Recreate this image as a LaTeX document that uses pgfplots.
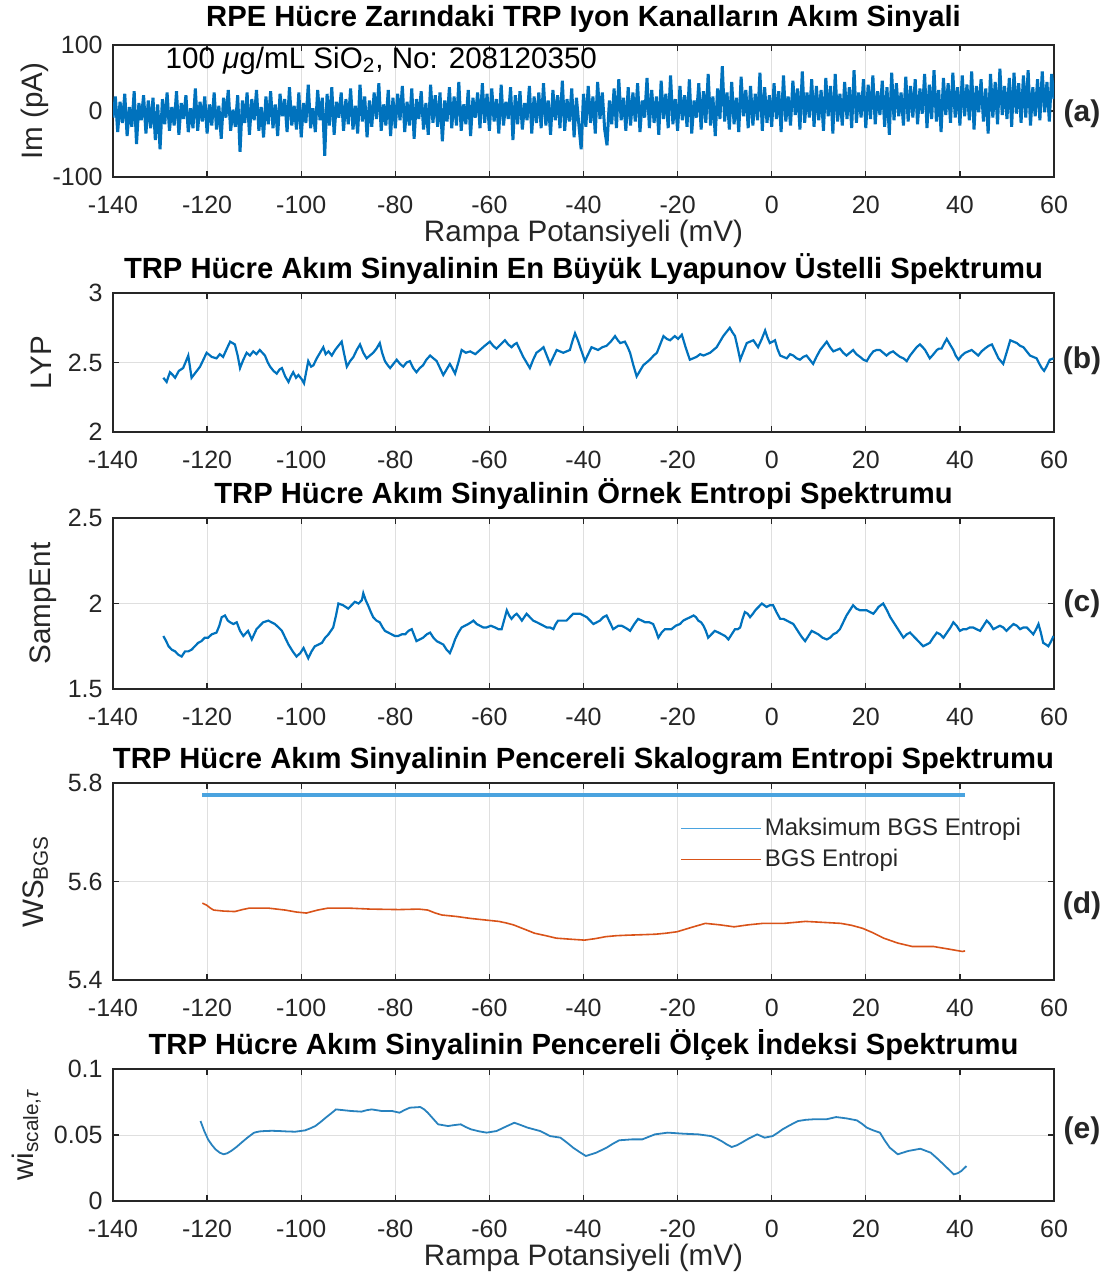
\documentclass[border=0pt]{standalone}
\usepackage{fontspec}
\setmainfont{Liberation Sans}
\usepackage{pgfplots}
\pgfplotsset{compat=1.18}

\definecolor{mblue}{RGB}{0,114,189}
\definecolor{mlight}{RGB}{74,163,223}
\definecolor{morange}{RGB}{217,83,25}
\definecolor{eblue}{RGB}{40,130,190}
\definecolor{axgray}{RGB}{38,38,38}
\definecolor{gridgray}{RGB}{223,223,223}

\pgfplotsset{
  panel/.style={
    scale only axis, width=470.5pt,
    xmin=-140, xmax=60,
    xtick={-140,-120,-100,-80,-60,-40,-20,0,20,40,60},
    xticklabels={-140,-120,-100,-80,-60,-40,-20,0,20,40,60},
    grid=major,
    major grid style={line width=0.5pt, draw=gridgray},
    axis line style={line width=0.65pt, draw=axgray},
    every tick/.style={line width=0.65pt, draw=axgray},
    major tick length=3pt, tick align=inside,
    tick label style={font=\fontsize{12.5}{14}\selectfont, text=axgray},
    xticklabel style={anchor=base, inner sep=0pt, yshift=-18pt},
    yticklabel style={anchor=east, inner sep=0pt, xshift=-5pt},
    title style={font=\bfseries\fontsize{14.6}{17}\selectfont, anchor=base,
      at={(axis description cs:0.5,1)}, yshift=1.5pt, inner sep=0pt},
    xlabel style={font=\fontsize{14.8}{17}\selectfont, text=axgray, anchor=base,
      at={(axis description cs:0.5,0)}, yshift=-32pt, inner sep=0pt},
    ylabel style={font=\fontsize{14.8}{17}\selectfont, text=axgray, anchor=base, inner sep=0pt},
    clip mode=individual,
  },
}

\begin{document}
\begin{tikzpicture}
\useasboundingbox (0,0) rectangle (557.5pt,-637pt);

% (a) current signal
\begin{axis}[panel, at={(56.5pt,-88.5pt)}, anchor=south west, height=66pt,
  ymin=-100, ymax=100, ytick={-100,0,100}, yticklabels={-100,0,100},
  title={RPE Hücre Zarındaki TRP Iyon Kanalların Akım Sinyali}, title style={yshift=2pt},
  xlabel={Rampa Potansiyeli (mV)}, ylabel={Im (pA)},
  ylabel style={at={(axis description cs:-0.075,0.5)}}]
\addplot[mblue, line width=1.5pt, line join=bevel] coordinates {
(-140,-10)(-139.5,22)(-139,-32)(-138.5,14)(-138,-18)(-137.5,26)(-137,-38)(-136.5,6)(-136,-24)(-135.5,30)(-135,-50)(-134.5,12)(-134,-14)(-133.5,24)(-133,-34)(-132.5,16)(-132,-26)(-131.5,20)(-131,-44)(-130.5,10)
(-130,-58)(-129.5,18)(-129,-20)(-128.5,28)(-128,-30)(-127.5,6)(-127,-22)(-126.5,30)(-126,-36)(-125.5,12)(-125,-12)(-124.5,24)(-124,-32)(-123.5,4)(-123,-26)(-122.5,34)(-122,-30)(-121.5,14)(-121,-16)(-120.5,22)
(-120,-34)(-119.5,10)(-119,-22)(-118.5,28)(-118,-28)(-117.5,8)(-117,-42)(-116.5,20)(-116,-10)(-115.5,32)(-115,-30)(-114.5,2)(-114,-24)(-113.5,24)(-113,-62)(-112.5,16)(-112,-18)(-111.5,28)(-111,-36)(-110.5,18)
(-110,-14)(-109.5,32)(-109,-30)(-108.5,6)(-108,-40)(-107.5,22)(-107,-20)(-106.5,30)(-106,-26)(-105.5,10)(-105,-38)(-104.5,26)(-104,-8)(-103.5,18)(-103,-32)(-102.5,36)(-102,-22)(-101.5,8)(-101,-28)(-100.5,28)
(-100,-40)(-99.5,12)(-99,-18)(-98.5,40)(-98,-26)(-97.5,4)(-97,-32)(-96.5,32)(-96,-14)(-95.5,20)(-95,-68)(-94.5,26)(-94,-22)(-93.5,36)(-93,-36)(-92.5,14)(-92,-10)(-91.5,28)(-91,-30)(-90.5,18)
(-90,-20)(-89.5,34)(-89,-28)(-88.5,8)(-88,-34)(-87.5,40)(-87,-16)(-86.5,22)(-86,-40)(-85.5,16)(-85,-24)(-84.5,28)(-84,-12)(-83.5,42)(-83,-30)(-82.5,10)(-82,-22)(-81.5,32)(-81,-38)(-80.5,20)
(-80,-26)(-79.5,26)(-79,-14)(-78.5,38)(-78,-32)(-77.5,14)(-77,-22)(-76.5,34)(-76,-42)(-75.5,18)(-75,-12)(-74.5,30)(-74,-28)(-73.5,12)(-73,-36)(-72.5,40)(-72,-18)(-71.5,24)(-71,-24)(-70.5,28)
(-70,-46)(-69.5,16)(-69,-16)(-68.5,36)(-68,-26)(-67.5,22)(-67,-22)(-66.5,44)(-66,-30)(-65.5,10)(-65,-20)(-64.5,32)(-64,-38)(-63.5,20)(-63,-10)(-62.5,28)(-62,-26)(-61.5,42)(-61,-18)(-60.5,26)
(-60,-30)(-59.5,34)(-59,-16)(-58.5,18)(-58,-34)(-57.5,40)(-57,-22)(-56.5,14)(-56,-12)(-55.5,36)(-55,-44)(-54.5,24)(-54,-20)(-53.5,30)(-53,-28)(-52.5,12)(-52,-14)(-51.5,38)(-51,-34)(-50.5,22)
(-50,-18)(-49.5,28)(-49,-26)(-48.5,42)(-48,-22)(-47.5,16)(-47,-36)(-46.5,32)(-46,-14)(-45.5,24)(-45,-26)(-44.5,46)(-44,-30)(-43.5,18)(-43,-16)(-42.5,34)(-42,-40)(-41.5,20)(-41,-20)(-40.5,-58)
(-40,26)(-39.5,-24)(-39,38)(-38.5,-18)(-38,22)(-37.5,-34)(-37,44)(-36.5,-12)(-36,28)(-35.5,-28)(-35,-52)(-34.5,16)(-34,-20)(-33.5,34)(-33,-26)(-32.5,48)(-32,-14)(-31.5,20)(-31,-30)(-30.5,36)
(-30,-22)(-29.5,28)(-29,-16)(-28.5,42)(-28,-32)(-27.5,16)(-27,-10)(-26.5,50)(-26,-26)(-25.5,32)(-25,-18)(-24.5,22)(-24,-36)(-23.5,46)(-23,-12)(-22.5,26)(-22,-26)(-21.5,54)(-21,-20)(-20.5,18)
(-20,-30)(-19.5,38)(-19,-14)(-18.5,24)(-18,-24)(-17.5,48)(-17,-34)(-16.5,16)(-16,-10)(-15.5,42)(-15,-28)(-14.5,30)(-14,-18)(-13.5,56)(-13,-22)(-12.5,22)(-12,-38)(-11.5,34)(-11,-12)(-10.5,68)
(-10,-16)(-9.5,28)(-9,-28)(-8.5,44)(-8,-20)(-7.5,20)(-7,-32)(-6.5,52)(-6,-8)(-5.5,32)(-5,-26)(-4.5,38)(-4,-22)(-3.5,26)(-3,-14)(-2.5,58)(-2,-30)(-1.5,36)(-1,-18)(-0.5,24)
(0,-24)(0.5,42)(1,-12)(1.5,30)(2,-32)(2.5,54)(3,-16)(3.5,22)(4,-22)(4.5,46)(5,-6)(5.5,34)(6,-28)(6.5,60)(7,-18)(7.5,28)(8,-10)(8.5,48)(9,-24)(9.5,38)
(10,-14)(10.5,32)(11,-30)(11.5,50)(12,-8)(12.5,38)(13,-34)(13.5,56)(14,-16)(14.5,26)(15,-22)(15.5,44)(16,-12)(16.5,36)(17,-26)(17.5,62)(18,-18)(18.5,28)(19,-10)(19.5,48)
(20,-26)(20.5,40)(21,-12)(21.5,54)(22,-20)(22.5,30)(23,-6)(23.5,46)(24,-24)(24.5,36)(25,-36)(25.5,58)(26,-14)(26.5,42)(27,-8)(27.5,28)(28,-22)(28.5,52)(29,-16)(29.5,38)
(30,-10)(30.5,48)(31,-20)(31.5,34)(32,-4)(32.5,56)(33,-26)(33.5,40)(34,-12)(34.5,62)(35,-16)(35.5,32)(36,-32)(36.5,50)(37,-6)(37.5,42)(38,-18)(38.5,58)(39,-10)(39.5,36)
(40,-22)(40.5,54)(41,-8)(41.5,40)(42,-14)(42.5,60)(43,-28)(43.5,38)(44,-2)(44.5,48)(45,-16)(45.5,34)(46,-34)(46.5,56)(47,-10)(47.5,44)(48,-20)(48.5,64)(49,-6)(49.5,38)
(50,-12)(50.5,50)(51,-24)(51.5,58)(52,-4)(52.5,42)(53,-18)(53.5,54)(54,-10)(54.5,62)(55,-22)(55.5,36)(56,-8)(56.5,48)(57,-14)(57.5,60)(58,-2)(58.5,44)(59,-16)(59.5,56)(60,18)
};
\node[anchor=base west, inner sep=0pt, font=\fontsize{14.8}{17}\selectfont]
  at (axis cs:-128.9,65) {100 {\itshape μ}g/mL SiO\textsubscript{2}, No: 208120350};
\end{axis}

% (b) largest Lyapunov exponent
\begin{axis}[panel, at={(56.5pt,-216pt)}, anchor=south west, height=69.5pt,
  ymin=2, ymax=3, ytick={2,2.5,3}, yticklabels={2,2.5,3},
  title={TRP Hücre Akım Sinyalinin En Büyük Lyapunov Üstelli Spektrumu},
  ylabel={LYP}, ylabel style={at={(axis description cs:-0.065,0.5)}}]
\addplot[mblue, line width=1.1pt] coordinates {
(-129.3,2.39)(-128.6,2.36)(-127.9,2.43)(-127.3,2.41)(-126.8,2.39)(-126,2.44)(-125.1,2.46)(-124.6,2.50)(-124,2.55)(-123.3,2.39)(-122.4,2.43)(-121.5,2.47)(-120.8,2.52)(-120.1,2.57)(-119,2.54)(-118,2.53)(-117.3,2.56)(-116.6,2.54)(-115.8,2.60)(-115.1,2.65)(-114.1,2.63)(-113.5,2.55)(-113,2.46)(-112.3,2.52)(-111.6,2.57)(-110.9,2.55)(-110.2,2.58)(-109.5,2.56)(-108.8,2.59)(-107.7,2.55)(-107.1,2.50)(-106.6,2.47)(-105.9,2.44)(-105.2,2.42)(-104.6,2.45)(-104.1,2.46)(-103.4,2.40)(-102.7,2.36)(-102.2,2.40)(-101.7,2.43)(-101.1,2.39)(-100.6,2.41)(-99.9,2.38)(-99.4,2.35)(-98.9,2.44)(-98.5,2.51)(-97.9,2.47)(-97.4,2.48)(-96.7,2.53)(-96,2.57)(-95.3,2.61)(-94.8,2.56)(-94.2,2.58)(-93.5,2.55)(-92.8,2.59)(-92.1,2.62)(-91.4,2.65)(-90.8,2.55)(-90.3,2.47)(-89.6,2.51)(-88.9,2.54)(-88.2,2.59)(-87.5,2.63)(-86.8,2.57)(-86.1,2.53)(-85.4,2.55)(-84.7,2.57)(-84,2.60)(-83.3,2.64)(-82.8,2.57)(-82.2,2.51)(-81.6,2.48)(-81.1,2.46)(-80.4,2.49)(-79.7,2.52)(-79,2.49)(-78.3,2.47)(-77.6,2.50)(-76.9,2.51)(-76.2,2.46)(-75.5,2.43)(-74.8,2.46)(-74.1,2.48)(-73.4,2.52)(-72.6,2.55)(-71.9,2.53)(-71.2,2.51)(-70.5,2.46)(-69.8,2.41)(-69.1,2.45)(-68.4,2.49)(-67.9,2.46)(-67.3,2.42)(-66.6,2.50)(-65.9,2.59)(-65,2.57)(-64.1,2.58)(-63,2.56)(-62,2.59)(-61,2.62)(-59.9,2.65)(-59.2,2.62)(-58.5,2.60)(-57.6,2.63)(-56.7,2.66)(-56,2.63)(-55.3,2.61)(-54.7,2.63)(-54.2,2.64)(-53.5,2.59)(-52.8,2.54)(-52.1,2.50)(-51.4,2.46)(-50.7,2.52)(-50,2.57)(-49.2,2.59)(-48.5,2.61)(-47.8,2.55)(-47.1,2.49)(-46.4,2.54)(-45.7,2.59)(-45,2.58)(-44.3,2.57)(-43.6,2.58)(-42.9,2.59)(-42.3,2.66)(-41.8,2.71)(-41.2,2.66)(-40.7,2.61)(-40.2,2.56)(-39.7,2.51)(-39,2.56)(-38.3,2.61)(-37.6,2.60)(-36.9,2.59)(-36,2.61)(-35.1,2.62)(-34.2,2.65)(-33.3,2.69)(-32.7,2.66)(-32.2,2.64)(-31.2,2.65)(-30.6,2.61)(-30.1,2.57)(-29.4,2.48)(-28.7,2.40)(-28,2.44)(-27.3,2.48)(-26.6,2.50)(-25.9,2.52)(-25.1,2.55)(-24.4,2.57)(-23.7,2.63)(-23,2.69)(-22.3,2.67)(-21.6,2.66)(-20.6,2.69)(-19.9,2.67)(-19.1,2.70)(-18.3,2.61)(-17.4,2.52)(-16.7,2.53)(-16,2.54)(-15.2,2.56)(-14.5,2.55)(-13.8,2.56)(-13.1,2.57)(-12.4,2.59)(-11.7,2.61)(-11,2.65)(-10.3,2.69)(-9.6,2.72)(-8.9,2.75)(-8.4,2.72)(-7.8,2.69)(-7.2,2.60)(-6.7,2.52)(-6,2.58)(-5.3,2.64)(-4.6,2.65)(-3.9,2.66)(-2.9,2.61)(-2.1,2.67)(-1.4,2.73)(-0.9,2.68)(-0.4,2.64)(0.2,2.65)(0.7,2.66)(1.2,2.60)(1.8,2.55)(2.5,2.54)(3.2,2.53)(3.9,2.56)(4.6,2.55)(5.3,2.53)(6,2.52)(6.7,2.54)(7.4,2.55)(8.1,2.52)(8.8,2.49)(9.5,2.54)(10.3,2.59)(11,2.62)(11.7,2.65)(12.4,2.61)(13.1,2.58)(13.8,2.59)(14.5,2.60)(15.2,2.57)(15.9,2.55)(16.6,2.57)(17.3,2.59)(18,2.56)(18.8,2.54)(19.5,2.52)(20.2,2.51)(20.9,2.55)(21.6,2.58)(22.3,2.59)(23,2.59)(23.7,2.57)(24.4,2.55)(25.1,2.57)(25.8,2.58)(26.5,2.56)(27.3,2.54)(28,2.53)(28.7,2.51)(29.4,2.55)(30.1,2.58)(30.8,2.61)(31.5,2.63)(32.1,2.61)(32.6,2.59)(33.1,2.56)(33.6,2.53)(34.4,2.56)(35.1,2.59)(35.6,2.60)(36.1,2.60)(36.7,2.64)(37.2,2.67)(37.9,2.63)(38.6,2.59)(39.1,2.55)(39.7,2.52)(40.4,2.55)(41.1,2.57)(41.8,2.58)(42.5,2.59)(43.2,2.57)(43.9,2.55)(44.6,2.58)(45.3,2.60)(46.1,2.62)(46.8,2.63)(47.5,2.58)(48.2,2.53)(48.7,2.51)(49.2,2.49)(50,2.58)(50.7,2.66)(51.4,2.65)(52.1,2.64)(52.8,2.62)(53.5,2.61)(54.2,2.58)(54.9,2.55)(55.6,2.54)(56.3,2.53)(56.9,2.49)(57.4,2.46)(57.9,2.44)(58.4,2.47)(59.1,2.52)(59.9,2.53)
};
\end{axis}

% (c) sample entropy
\begin{axis}[panel, at={(56.5pt,-344.5pt)}, anchor=south west, height=85.5pt,
  ymin=1.5, ymax=2.5, ytick={1.5,2,2.5}, yticklabels={1.5,2,2.5},
  title={TRP Hücre Akım Sinyalinin Örnek Entropi Spektrumu},
  ylabel={SampEnt}, ylabel style={at={(axis description cs:-0.066,0.5)}}]
\addplot[mblue, line width=1.1pt] coordinates {
(-129.3,1.81)(-128.7,1.78)(-128.2,1.75)(-127.5,1.73)(-126.8,1.72)(-126.1,1.70)(-125.4,1.69)(-124.7,1.72)(-124,1.72)(-123.3,1.73)(-122.6,1.75)(-121.9,1.77)(-121.2,1.78)(-120.5,1.80)(-119.8,1.80)(-119,1.82)(-118,1.83)(-117.4,1.87)(-116.9,1.92)(-116.2,1.93)(-115.6,1.90)(-115.1,1.89)(-114.4,1.88)(-113.7,1.89)(-113,1.84)(-112.3,1.81)(-111.3,1.84)(-110.5,1.79)(-109.5,1.85)(-108.8,1.87)(-108.1,1.89)(-107,1.90)(-106.3,1.89)(-105.6,1.88)(-104.8,1.86)(-104.1,1.84)(-103.4,1.80)(-102.7,1.76)(-101.8,1.72)(-101,1.69)(-100.2,1.71)(-99.5,1.74)(-98.5,1.68)(-97.8,1.72)(-97.1,1.75)(-96.3,1.76)(-95.6,1.77)(-94.9,1.80)(-94.2,1.82)(-93.7,1.84)(-93.2,1.86)(-92.6,1.93)(-92.1,2.00)(-91.1,1.99)(-90,1.97)(-89.3,1.99)(-88.6,2.01)(-87.8,2.00)(-87.1,2.02)(-86.8,2.06)(-86.3,2.02)(-85.8,1.99)(-85.2,1.95)(-84.7,1.92)(-84,1.90)(-83.3,1.89)(-82.7,1.86)(-82.2,1.84)(-81.5,1.83)(-80.8,1.82)(-80.1,1.81)(-79.4,1.81)(-78.6,1.82)(-77.9,1.82)(-77.2,1.84)(-76.5,1.85)(-75.5,1.78)(-74.8,1.79)(-74.1,1.80)(-73.3,1.82)(-72.6,1.83)(-71.9,1.80)(-71.2,1.78)(-70.5,1.77)(-69.8,1.76)(-69.1,1.73)(-68.4,1.71)(-67.8,1.75)(-67.3,1.79)(-66.6,1.83)(-65.9,1.86)(-65.2,1.87)(-64.5,1.88)(-63.9,1.89)(-63.4,1.90)(-62.7,1.88)(-62,1.87)(-61.3,1.86)(-60.6,1.86)(-59.7,1.87)(-58.8,1.86)(-58.1,1.85)(-57.4,1.85)(-56.8,1.91)(-56.3,1.96)(-55.8,1.93)(-55.3,1.91)(-54.7,1.93)(-54.2,1.94)(-53.6,1.92)(-53.1,1.90)(-52.6,1.92)(-52.1,1.94)(-51.4,1.92)(-50.7,1.90)(-49.9,1.89)(-49.2,1.88)(-48.5,1.87)(-47.8,1.86)(-47.1,1.86)(-46.4,1.85)(-45.9,1.88)(-45.4,1.90)(-44.5,1.90)(-43.6,1.90)(-42.9,1.92)(-42.2,1.94)(-41.5,1.94)(-40.7,1.94)(-40,1.93)(-39.3,1.92)(-38.6,1.90)(-37.9,1.88)(-37.2,1.89)(-36.5,1.90)(-35.8,1.92)(-35.1,1.93)(-34.4,1.89)(-33.7,1.85)(-32.6,1.87)(-31.9,1.87)(-31.2,1.86)(-30.6,1.85)(-30.1,1.84)(-29.2,1.88)(-28.4,1.91)(-27.6,1.90)(-26.9,1.89)(-26,1.89)(-25.2,1.88)(-24.6,1.84)(-24.1,1.80)(-23.4,1.83)(-22.7,1.85)(-22,1.85)(-21.3,1.85)(-20.4,1.87)(-19.5,1.88)(-18.8,1.90)(-18.1,1.91)(-17.3,1.92)(-16.6,1.93)(-16.1,1.92)(-15.6,1.90)(-15,1.89)(-14.5,1.87)(-14,1.84)(-13.5,1.80)(-12.8,1.82)(-12.1,1.84)(-11.3,1.83)(-10.6,1.82)(-9.9,1.81)(-9.2,1.79)(-8.5,1.82)(-7.8,1.85)(-7.2,1.85)(-6.7,1.86)(-6.2,1.91)(-5.7,1.95)(-5.1,1.94)(-4.6,1.92)(-4,1.94)(-3.5,1.96)(-2.8,1.98)(-2.1,2.00)(-1.6,1.99)(-1.1,1.98)(-0.4,1.99)(0.3,1.99)(1,1.95)(1.8,1.91)(2.5,1.91)(3.2,1.90)(3.9,1.89)(4.6,1.88)(5.3,1.85)(6,1.82)(6.5,1.80)(7.1,1.78)(7.8,1.81)(8.5,1.84)(9.2,1.83)(9.9,1.82)(10.8,1.80)(11.7,1.79)(12.4,1.80)(13.1,1.82)(13.8,1.83)(14.5,1.85)(15.2,1.89)(15.9,1.93)(16.6,1.96)(17.3,1.99)(18,1.97)(18.8,1.96)(19.5,1.96)(20.2,1.96)(20.9,1.95)(21.6,1.94)(22.2,1.96)(22.7,1.98)(23.2,1.99)(23.7,2.00)(24.5,1.96)(25.2,1.92)(25.9,1.89)(26.6,1.86)(27.3,1.83)(28,1.80)(28.7,1.82)(29.4,1.83)(30.1,1.81)(30.8,1.79)(31.5,1.77)(32.2,1.75)(32.9,1.76)(33.6,1.77)(34.3,1.80)(35.1,1.83)(35.8,1.82)(36.5,1.80)(37,1.82)(37.5,1.84)(38,1.86)(38.6,1.89)(39.3,1.87)(40,1.84)(40.7,1.85)(41.4,1.85)(42.1,1.86)(42.8,1.86)(43.5,1.85)(44.3,1.84)(45,1.87)(45.7,1.90)(46.4,1.88)(47.1,1.85)(47.8,1.86)(48.5,1.87)(49.2,1.86)(49.9,1.84)(50.6,1.86)(51.4,1.88)(52.1,1.87)(52.8,1.85)(53.5,1.86)(54.2,1.86)(54.9,1.84)(55.6,1.82)(56.2,1.85)(56.7,1.88)(57.2,1.83)(57.7,1.77)(58.3,1.76)(58.8,1.75)(59.4,1.78)(59.9,1.81)
};
\end{axis}

% (d) windowed scalogram entropy
\begin{axis}[panel, at={(56.5pt,-490pt)}, anchor=south west, height=98.5pt,
  ymin=5.4, ymax=5.8, ytick={5.4,5.6,5.8}, yticklabels={5.4,5.6,5.8},
  title={TRP Hücre Akım Sinyalinin Pencereli Skalogram Entropi Spektrumu},
  ylabel={WS\textsubscript{BGS}}, ylabel style={at={(axis description cs:-0.074,0.5)}},
  legend style={at={(axis description cs:0.6026,0.69)}, anchor=west, draw=none, fill=none,
    inner sep=0pt, font=\fontsize{12}{14}\selectfont, text=axgray,
    row sep=2.5pt, nodes={inner sep=1.5pt}},
  legend cell align=left,
  legend image code/.code={\draw[#1, line width=0.7pt] (0pt,0pt) -- (40pt,0pt);}]
\addplot[mlight, line width=1.6pt] coordinates {(-121,5.7756)(41.1,5.7756)};
\addlegendentry{Maksimum BGS Entropi}
\addplot[morange, line width=0.8pt] coordinates {
(-121,5.556)(-120.1,5.552)(-119.3,5.546)(-118.6,5.542)(-116.5,5.540)(-114.1,5.539)(-112.5,5.543)(-111,5.546)(-107,5.546)(-103.4,5.542)(-101,5.538)(-98.9,5.536)(-96.5,5.542)(-94.3,5.546)(-90,5.546)(-85.3,5.544)(-79.2,5.543)(-75,5.544)(-73.1,5.542)(-71.5,5.536)(-70.1,5.532)(-67,5.529)(-64,5.525)(-61,5.522)(-58,5.519)(-56.5,5.516)(-54.9,5.512)(-52.5,5.503)(-50.4,5.495)(-48,5.490)(-45.8,5.485)(-43,5.483)(-39.8,5.481)(-37.5,5.484)(-35.3,5.488)(-33,5.490)(-30.7,5.491)(-27.5,5.492)(-24.7,5.493)(-22.5,5.495)(-20.1,5.498)(-17,5.507)(-14.1,5.515)(-11,5.512)(-8,5.508)(-5,5.512)(-1.9,5.515)(2.6,5.515)(7.2,5.519)(11,5.517)(14.7,5.515)(17,5.511)(19.3,5.505)(21.5,5.496)(23.8,5.485)(26.8,5.475)(29.9,5.468)(34.4,5.468)(37.5,5.463)(40.5,5.458)(41.1,5.459)
};
\addlegendentry{BGS Entropi}
\end{axis}

% (e) windowed scale index
\begin{axis}[panel, at={(56.5pt,-600.5pt)}, anchor=south west, height=66pt,
  ymin=0, ymax=0.1, ytick={0,0.05,0.1}, yticklabels={0,0.05,0.1},
  title={TRP Hücre Akım Sinyalinin Pencereli Ölçek İndeksi Spektrumu},
  xlabel={Rampa Potansiyeli (mV)},
  ylabel={wi\textsubscript{scale,{\itshape τ}}}, ylabel style={at={(axis description cs:-0.085,0.5)}}]
\addplot[eblue, line width=0.9pt] coordinates {
(-121.4,0.0606)(-120.6,0.0530)(-119.8,0.0467)(-119,0.0425)(-118.2,0.0391)(-117.3,0.0366)(-116.5,0.0354)(-115.7,0.0362)(-114.9,0.0379)(-113.8,0.0408)(-112.7,0.0442)(-111.4,0.0481)(-110,0.0518)(-108.9,0.0527)(-107.8,0.0530)(-106.2,0.0532)(-104.6,0.0530)(-103,0.0527)(-101.3,0.0525)(-99.2,0.0535)(-98.1,0.0550)(-97,0.0568)(-95.9,0.0598)(-94.8,0.0631)(-93.7,0.0662)(-92.6,0.0694)(-91,0.0688)(-89.4,0.0682)(-87.2,0.0677)(-86.1,0.0688)(-85,0.0694)(-82.9,0.0682)(-80.7,0.0682)(-79.1,0.0669)(-78,0.0690)(-76.9,0.0707)(-74.7,0.0712)(-73.9,0.0695)(-73.1,0.0669)(-72,0.0625)(-70.9,0.0581)(-68.8,0.0568)(-67.5,0.0575)(-66.1,0.0581)(-65,0.0560)(-63.9,0.0543)(-62.2,0.0528)(-60.6,0.0518)(-58.5,0.0530)(-56.6,0.0562)(-54.7,0.0593)(-53.3,0.0575)(-51.9,0.0556)(-49.2,0.0530)(-47.1,0.0492)(-44.9,0.0480)(-43.5,0.0442)(-42.2,0.0404)(-40.8,0.0370)(-39.5,0.0341)(-37.3,0.0366)(-35.1,0.0404)(-33.7,0.0435)(-32.4,0.0460)(-29.7,0.0467)(-27.5,0.0467)(-26.1,0.0487)(-24.8,0.0505)(-22.1,0.0518)(-18.8,0.0510)(-15.6,0.0505)(-12.9,0.0492)(-11.8,0.0475)(-10.7,0.0455)(-9.6,0.0430)(-8.5,0.0409)(-7.4,0.0422)(-6.4,0.0442)(-4.8,0.0475)(-3.1,0.0505)(-1.5,0.0480)(0.2,0.0492)(1.2,0.0515)(2.3,0.0543)(3.9,0.0575)(5.6,0.0606)(7.2,0.0615)(8.8,0.0619)(11.6,0.0619)(13.7,0.0636)(15.9,0.0626)(18.1,0.0611)(19.2,0.0585)(20.2,0.0556)(21.6,0.0535)(23,0.0518)(24,0.0460)(25.1,0.0404)(26.8,0.0354)(29,0.0379)(31.6,0.0396)(33.8,0.0366)(35.1,0.0325)(36.5,0.0278)(37.6,0.0240)(38.7,0.0202)(39.5,0.0210)(40.3,0.0227)(41.4,0.0265)
};
\end{axis}

% panel letters
\begin{scope}[every node/.style={font=\bfseries\fontsize{15}{17}\selectfont, text=axgray}]
\node at (541pt,-57pt) {(a)};
\node at (541pt,-180.5pt) {(b)};
\node at (541pt,-302pt) {(c)};
\node at (541pt,-453pt) {(d)};
\node at (541pt,-565.5pt) {(e)};
\end{scope}
\end{tikzpicture}
\end{document}
